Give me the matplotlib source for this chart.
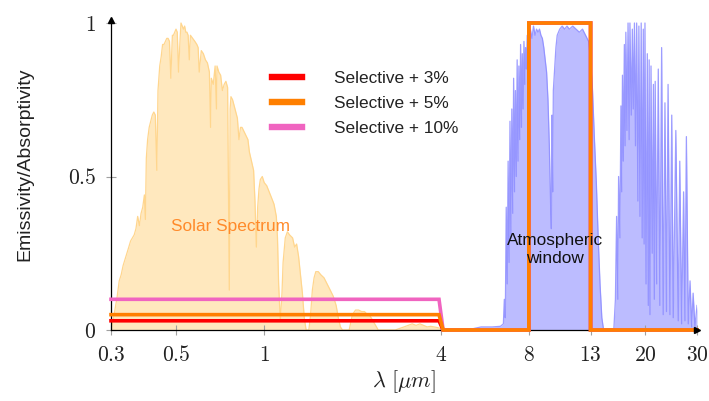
import matplotlib
matplotlib.use("Agg")
import matplotlib.pyplot as plt
from matplotlib.ticker import FixedLocator, FixedFormatter, NullLocator

# ---------------- data ----------------
solar_wl = [0.300, 0.305, 0.310, 0.315, 0.320, 0.325, 0.330, 0.335, 0.340, 0.345,
            0.350, 0.355, 0.360, 0.365, 0.370, 0.375, 0.380, 0.385, 0.390, 0.393,
            0.396, 0.400, 0.405, 0.410, 0.415, 0.420, 0.425, 0.430, 0.434, 0.440,
            0.445, 0.450, 0.455, 0.460, 0.465, 0.470, 0.475, 0.480, 0.486, 0.490,
            0.495, 0.500, 0.505, 0.510, 0.517, 0.520, 0.525, 0.530, 0.535, 0.540,
            0.545, 0.550, 0.555, 0.560, 0.570, 0.580, 0.589, 0.595, 0.600, 0.610,
            0.620, 0.630, 0.640, 0.650, 0.656, 0.660, 0.670, 0.680, 0.687, 0.690,
            0.700, 0.710, 0.720, 0.730, 0.740, 0.750, 0.760, 0.765, 0.770, 0.780,
            0.790, 0.800, 0.810, 0.820, 0.830, 0.840, 0.850, 0.860, 0.870, 0.880,
            0.890, 0.900, 0.910, 0.920, 0.930, 0.940, 0.950, 0.960, 0.970, 0.985,
            1.000, 1.020, 1.040, 1.060, 1.080, 1.100, 1.110, 1.120, 1.135, 1.150,
            1.160, 1.180, 1.200, 1.220, 1.250, 1.270, 1.290, 1.310, 1.330, 1.350,
            1.370, 1.390, 1.420, 1.440, 1.460, 1.480, 1.500, 1.530, 1.560, 1.600,
            1.640, 1.680, 1.720, 1.760, 1.790, 1.820, 1.850, 1.950, 1.980, 2.000,
            2.050, 2.100, 2.150, 2.200, 2.250, 2.300, 2.350, 2.400, 2.450, 2.550,
            2.800, 2.900, 3.000, 3.100, 3.200, 3.300, 3.400, 3.500, 3.600, 3.700,
            3.800, 3.900, 4.000]
solar_val = [0.00, 0.03, 0.07, 0.11, 0.16, 0.18, 0.21, 0.23, 0.25, 0.27,
             0.29, 0.30, 0.31, 0.33, 0.37, 0.34, 0.38, 0.40, 0.44, 0.36,
             0.56, 0.62, 0.66, 0.68, 0.70, 0.71, 0.70, 0.52, 0.78, 0.86,
             0.89, 0.93, 0.93, 0.94, 0.95, 0.95, 0.94, 0.82, 0.96, 0.96,
             0.97, 0.98, 0.97, 0.84, 0.96, 1.00, 0.99, 0.98, 0.99, 0.97,
             0.97, 0.96, 0.88, 0.96, 0.95, 0.94, 0.93, 0.92, 0.84, 0.91,
             0.90, 0.88, 0.87, 0.84, 0.66, 0.82, 0.80, 0.86, 0.72, 0.86,
             0.84, 0.83, 0.78, 0.80, 0.81, 0.79, 0.13, 0.72, 0.76, 0.75,
             0.73, 0.71, 0.69, 0.62, 0.66, 0.66, 0.65, 0.64, 0.63, 0.62,
             0.58, 0.56, 0.54, 0.52, 0.42, 0.27, 0.40, 0.46, 0.49, 0.50,
             0.48, 0.47, 0.45, 0.43, 0.41, 0.37, 0.30, 0.15, 0.03, 0.12,
             0.22, 0.30, 0.32, 0.31, 0.30, 0.27, 0.28, 0.24, 0.18, 0.12,
             0.04, 0.00, 0.00, 0.05, 0.13, 0.17, 0.19, 0.19, 0.18, 0.17,
             0.15, 0.13, 0.11, 0.08, 0.04, 0.01, 0.00, 0.00, 0.03, 0.05,
             0.065, 0.065, 0.06, 0.06, 0.05, 0.045, 0.03, 0.015, 0.00, 0.00,
             0.00, 0.005, 0.01, 0.015, 0.02, 0.015, 0.02, 0.015, 0.01, 0.012,
             0.01, 0.008, 0.005]

atm_wl = [4.0, 5.0, 5.2, 5.5, 6.0, 6.4, 6.55, 6.60, 6.65, 6.70,
          6.75, 6.80, 6.85, 6.90, 6.95, 7.00, 7.05, 7.10, 7.15, 7.20,
          7.25, 7.30, 7.35, 7.40, 7.45, 7.50, 7.55, 7.60, 7.65, 7.70,
          7.75, 7.80, 7.85, 7.90, 8.00, 8.10, 8.20, 8.30, 8.40, 8.50,
          8.60, 8.70, 8.80, 8.90, 9.00, 9.10, 9.20, 9.30, 9.40, 9.50,
          9.55, 9.60, 9.65, 9.70, 9.80, 9.90, 10.0, 10.2, 10.4, 10.6,
          10.8, 11.0, 11.3, 11.6, 11.9, 12.2, 12.5, 12.8, 13.0, 13.2,
          13.4, 13.6, 13.8, 14.0, 14.2, 14.4, 15.6, 15.8, 15.95, 16.1,
          16.2, 16.37, 16.5, 16.6, 16.7, 16.81, 16.95, 17.05, 17.15, 17.3,
          17.45, 17.6, 17.71, 17.9, 18.05, 18.18, 18.35, 18.5, 18.67, 18.85,
          19.0, 19.16, 19.35, 19.5, 19.67, 19.8, 19.93, 20.1, 20.3, 20.46,
          20.6, 20.73, 20.9, 21.1, 21.3, 21.45, 21.6, 21.85, 22.13, 22.4,
          22.72, 23.0, 23.32, 23.6, 23.9, 24.25, 24.6, 24.89, 25.4, 25.89,
          26.2, 26.59, 27.0, 27.29, 27.6, 28.01, 28.4, 28.77, 29.1, 29.52,
          30.0]
atm_val = [0.0, 0.0, 0.005, 0.01, 0.01, 0.012, 0.02, 0.10, 0.04, 0.40,
           0.15, 0.55, 0.22, 0.68, 0.30, 0.72, 0.38, 0.82, 0.45, 0.78,
           0.50, 0.88, 0.55, 0.86, 0.62, 0.93, 0.66, 0.90, 0.72, 0.94,
           0.80, 0.92, 0.85, 0.96, 0.93, 0.98, 0.95, 0.99, 0.96, 0.98,
           0.97, 0.98, 0.96, 0.95, 0.92, 0.88, 0.84, 0.75, 0.60, 0.40,
           0.33, 0.70, 0.45, 0.78, 0.85, 0.92, 0.96, 0.98, 0.99, 0.98,
           0.99, 0.98, 0.99, 0.98, 0.97, 0.98, 0.96, 0.94, 0.88, 0.78,
           0.62, 0.48, 0.30, 0.15, 0.04, 0.00, 0.00, 0.10, 0.37, 0.10,
           0.50, 0.30, 0.73, 0.45, 0.83, 0.55, 0.93, 0.60, 0.97, 0.65,
           1.00, 0.62, 1.00, 0.70, 0.98, 0.72, 1.00, 0.60, 1.00, 0.42,
           0.99, 0.37, 1.00, 0.30, 0.98, 0.28, 1.00, 0.15, 0.90, 0.08,
           0.88, 0.05, 0.86, 0.25, 0.80, 0.10, 0.81, 0.15, 0.85, 0.08,
           0.92, 0.05, 0.74, 0.06, 0.80, 0.05, 0.70, 0.04, 0.65, 0.03,
           0.55, 0.02, 0.45, 0.03, 0.63, 0.02, 0.16, 0.01, 0.12, 0.01,
           0.08]

sel_labels = ["Selective + 3%", "Selective + 5%", "Selective + 10%"]
sel_levels = [0.03, 0.05, 0.10]
sel_colors = ["#FF0000", "#FF7F00", "#F064C0"]
sel_start = 0.3
sel_cutoff = [3.95, 4.08]
window_edges = [8.0, 13.0]
sel_end = 30.0

xticks = [0.3, 0.5, 1, 4, 8, 13, 20, 30]
xtick_labels = ["0.3", "0.5", "1", "4", "8", "13", "20", "30"]
yticks = [0, 0.5, 1]
ytick_labels = ["0", "0.5", "1"]

# ---------------- figure ----------------
plt.rcParams["mathtext.fontset"] = "cm"
plt.rcParams["font.family"] = ["Liberation Sans", "DejaVu Sans"]

fig = plt.figure(figsize=(7.09, 4.01), dpi=100)
ax = fig.add_axes([111 / 709, 71 / 401, 586 / 709, 310 / 401])
ax.set_xscale("log")
ax.set_xlim(0.3, 30)
ax.set_ylim(0, 310 / 307)

# solar spectrum
ax.fill_between(solar_wl, solar_val, 0, color="#FFE8BE", lw=0, zorder=1)
ax.plot(solar_wl, solar_val, color="#FFD68E", lw=0.9, zorder=1.2)

# atmospheric window
ax.fill_between(atm_wl, atm_val, 0, color="#BCBCFF", lw=0, zorder=1)
ax.plot(atm_wl, atm_val, color="#8C8CFF", lw=0.9, alpha=0.85, zorder=1.2)

# selective emitters
zorders = [3, 3.2, 3.1]
for lab, lev, col, zo in zip(sel_labels, sel_levels, sel_colors, zorders):
    xs = [sel_start, sel_cutoff[0], sel_cutoff[1], window_edges[0], window_edges[0],
          window_edges[1], window_edges[1], sel_end]
    ys = [lev, lev, 0, 0, 1, 1, 0, 0]
    ax.plot(xs, ys, color=col, lw=2.6, label=lab, zorder=zo, clip_on=False,
            solid_joinstyle="miter")

# texts
ax.text(0.77, 0.336, "Solar Spectrum", color="#FF8A2A", fontsize=12.4,
        ha="center", va="center", zorder=4)
ax.text(9.83, 0.262, "Atmospheric\nwindow", color="#111111", fontsize=12.4,
        ha="center", va="center", linespacing=1.2, zorder=4)

# axes styling
for s in ["top", "right"]:
    ax.spines[s].set_visible(False)
for s in ["left", "bottom"]:
    ax.spines[s].set_linewidth(0.9)
    ax.spines[s].set_color("black")
    ax.spines[s].set_zorder(2.5)
ax.plot(0, 1, marker="^", color="black", ms=5, transform=ax.transAxes, clip_on=False, zorder=5)
ax.plot(1, 0, marker=">", color="black", ms=5, transform=ax.transAxes, clip_on=False, zorder=5)

ax.xaxis.set_major_locator(FixedLocator(xticks))
ax.xaxis.set_major_formatter(FixedFormatter(["$" + t + "$" for t in xtick_labels]))
ax.xaxis.set_minor_locator(NullLocator())
ax.yaxis.set_major_locator(FixedLocator(yticks))
ax.yaxis.set_major_formatter(FixedFormatter(["$" + t + "$" for t in ytick_labels]))
ax.tick_params(direction="inout", length=7, width=0.8, color="#A0A0A0",
               labelsize=15.5, pad=7, labelcolor="#222222")

ax.set_xlabel(r"$\lambda\ [\mu m]$", fontsize=16, color="#222222")
ax.xaxis.set_label_coords(0.5, -0.124)
ax.set_ylabel("Emissivity/Absorptivity", fontsize=14, color="#222222")
ax.yaxis.set_label_coords(-0.133, 0.536)

leg = fig.legend(loc="upper left", bbox_to_anchor=(263 / 709, 1 - 62 / 401),
                 frameon=False, borderpad=0, handlelength=1.74, handletextpad=1.9,
                 labelspacing=0.58, fontsize=12.4)
for line in leg.get_lines():
    line.set_linewidth(4.6)
for t in leg.get_texts():
    t.set_color("#222222")

fig.savefig("out.png", dpi=100)
